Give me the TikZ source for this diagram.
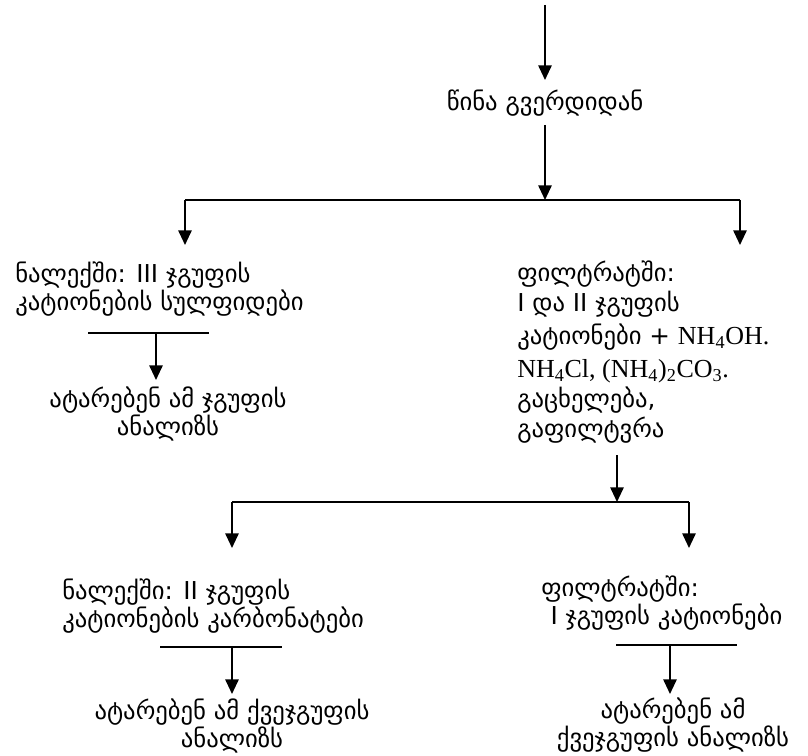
\documentclass[tikz,border=0pt]{standalone}
\usepackage{fontspec}
\setmainfont{DejaVu Sans}
\newfontfamily\chemfont{Liberation Serif}
\usetikzlibrary{arrows.meta}

\newcommand{\chem}[1]{{\chemfont\fontsize{19.5}{22}\selectfont #1}}

\tikzset{
	flow/.style = {line width=1.4pt, -{Triangle[length=11pt,width=10pt]}},
	bar/.style = {line width=1.4pt},
	txt/.style = {inner sep=0pt, font=\fontsize{18.5}{21}\selectfont},
	txtl/.style = {txt, anchor=west, align=left},
	txtc/.style = {txt, align=center}
}

\begin{document}
\begin{tikzpicture}[x=0.75pt, y=-0.75pt]
	\useasboundingbox (0,0) rectangle (808,756);

	\coordinate (top) at (545,5);
	\coordinate (topend) at (545,80);
	\node[txtc] (prev) at (545,103) {წინა გვერდიდან};
	\coordinate (prevout) at (545,125);
	\coordinate (fork1) at (545,200);
	\coordinate (fork1l) at (185,200);
	\coordinate (fork1r) at (740,200);
	\coordinate (in1l) at (185,245);
	\coordinate (in1r) at (740,245);

	\draw[flow] (top) -- (topend);
	\draw[flow] (prevout) -- (fork1);
	\draw[bar] (fork1l) -- (fork1r);
	\draw[flow] (fork1l) -- (in1l);
	\draw[flow] (fork1r) -- (in1r);

	% III group
	\node[txtl] (sed1) at (15,289) {ნალექში: III ჯგუფის\\კატიონების სულფიდები};
	\coordinate (bar1l) at (88,333);
	\coordinate (bar1r) at (209,333);
	\coordinate (bar1m) at (156,333);
	\coordinate (ana1in) at (156,380);
	\draw[bar] (bar1l) -- (bar1r);
	\draw[flow] (bar1m) -- (ana1in);
	\node[txtc] (ana1) at (168,414) {ატარებენ ამ ჯგუფის\\ანალიზს};

	% I and II groups
	\node[txtl, font=\fontsize{18.5}{22.5}\selectfont] (filt1) at (517,352) {ფილტრატში:\\
		I და II ჯგუფის\\[2pt]
		კატიონები + \chem{NH\textsubscript{4}OH.}\\[2pt]
		\chem{NH\textsubscript{4}Cl, (NH\textsubscript{4})\textsubscript{2}CO\textsubscript{3}.}\\
		გაცხელება,\\
		გაფილტვრა};
	\coordinate (filtout) at (617,455);
	\coordinate (fork2) at (617,502);
	\coordinate (fork2l) at (232,502);
	\coordinate (fork2r) at (689,502);
	\coordinate (in2l) at (232,548);
	\coordinate (in2r) at (689,548);
	\draw[flow] (filtout) -- (fork2);
	\draw[bar] (fork2l) -- (fork2r);
	\draw[flow] (fork2l) -- (in2l);
	\draw[flow] (fork2r) -- (in2r);

	% II group
	\node[txtl] (sed2) at (62,606) {ნალექში: II ჯგუფის\\კატიონების კარბონატები};
	\coordinate (bar2l) at (160,647);
	\coordinate (bar2r) at (282,647);
	\coordinate (bar2m) at (232,647);
	\coordinate (ana2in) at (232,694);
	\draw[bar] (bar2l) -- (bar2r);
	\draw[flow] (bar2m) -- (ana2in);
	\node[txtc] (ana2) at (232,726) {ატარებენ ამ ქვეჯგუფის\\ანალიზს};

	% I group
	\node[txtl] (filt2) at (541,603) {ფილტრატში:\\\hspace{7pt}I ჯგუფის კატიონები};
	\coordinate (bar3l) at (616,645);
	\coordinate (bar3r) at (737,645);
	\coordinate (bar3m) at (670,645);
	\coordinate (ana3in) at (670,694);
	\draw[bar] (bar3l) -- (bar3r);
	\draw[flow] (bar3m) -- (ana3in);
	\node[txtc] (ana3) at (673,725) {ატარებენ ამ\\ქვეჯგუფის ანალიზს};
\end{tikzpicture}
\end{document}
